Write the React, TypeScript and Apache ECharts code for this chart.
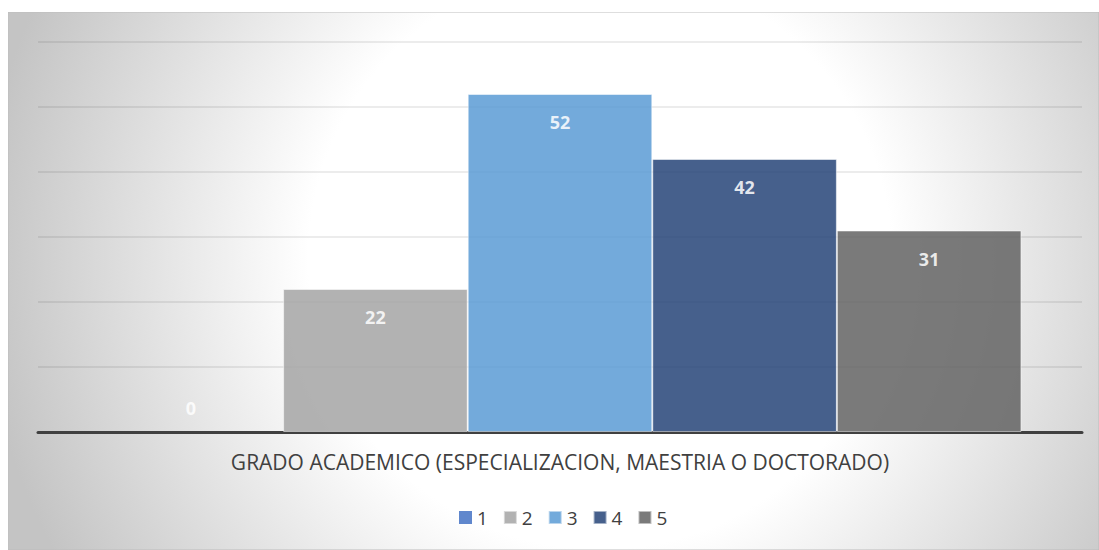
import React, { useEffect, useRef } from "react";
import * as echarts from "echarts";

const categories = ["GRADO ACADEMICO (ESPECIALIZACION, MAESTRIA O DOCTORADO)"];
const seriesNames = ["1", "2", "3", "4", "5"];
const seriesValues = [[0], [22], [52], [42], [31]];
const seriesColors = ["#4472C4", "#A5A5A5", "#5B9BD5", "#264478", "#636363"];
const yTicks = { min: 0, max: 60, interval: 10 };

export default function App() {
  const ref = useRef<HTMLDivElement>(null);
  useEffect(() => {
    if (!ref.current) return;
    const chart = echarts.init(ref.current, null, { renderer: "svg" });
    const font = "'Open Sans', 'Noto Sans', sans-serif";
    const option = {
      animation: false,
      graphic: [
        {
          type: "rect",
          z: -10,
          zlevel: 0,
          silent: true,
          shape: { x: 0, y: 0, width: 1091, height: 538 },
          style: {
            fill: new echarts.graphic.RadialGradient(592, 246, 620, [
              { offset: 0, color: "#ffffff" },
              { offset: 0.47, color: "#ffffff" },
              { offset: 1, color: "#c4c4c4" },
            ], true),
            stroke: "#bdbdbd",
            lineWidth: 1,
          },
        },
      ],
      grid: { left: 30, right: 17, top: 30, bottom: 118, containLabel: false },
      legend: {
        data: seriesNames,
        left: 446,
        top: 491,
        itemWidth: 13,
        itemHeight: 13,
        itemGap: 15,
        icon: "rect",
        textStyle: { color: "#404040", fontSize: 19, fontFamily: font },
      },
      xAxis: {
        type: "category",
        data: categories,
        axisLine: { show: true, lineStyle: { color: "#404040", width: 3 } },
        axisTick: { show: false },
        axisLabel: { color: "#404040", fontSize: 21, fontFamily: font, margin: 19 },
      },
      yAxis: {
        type: "value",
        min: yTicks.min,
        max: yTicks.max,
        interval: yTicks.interval,
        axisLabel: { show: false },
        axisLine: { show: false },
        axisTick: { show: false },
        splitLine: { show: true, lineStyle: { color: "rgba(0,0,0,0.1)", width: 1.5 } },
      },
      series: seriesNames.map((name, i) => ({
        name,
        type: "bar",
        data: seriesValues[i],
        barGap: "0%",
        barCategoryGap: "11.6%",
        itemStyle: {
          color: seriesColors[i],
          opacity: 0.85,
          borderColor: "rgba(255,255,255,0.6)",
          borderWidth: seriesValues[i][0] === 0 ? 0 : 1,
        },
        label: {
          show: true,
          position: seriesValues[i][0] === 0 ? "top" : "insideTop",
          distance: seriesValues[i][0] === 0 ? 15 : 19,
          color: "#ffffff",
          fontWeight: "bold",
          fontSize: 18,
          fontFamily: font,
        },
      })),
    };
    chart.setOption(option as any);
    return () => chart.dispose();
  }, []);
  return (
    <div
      ref={ref}
      style={{ position: "absolute", left: 8, top: 12, width: 1091, height: 538 }}
    />
  );
}
